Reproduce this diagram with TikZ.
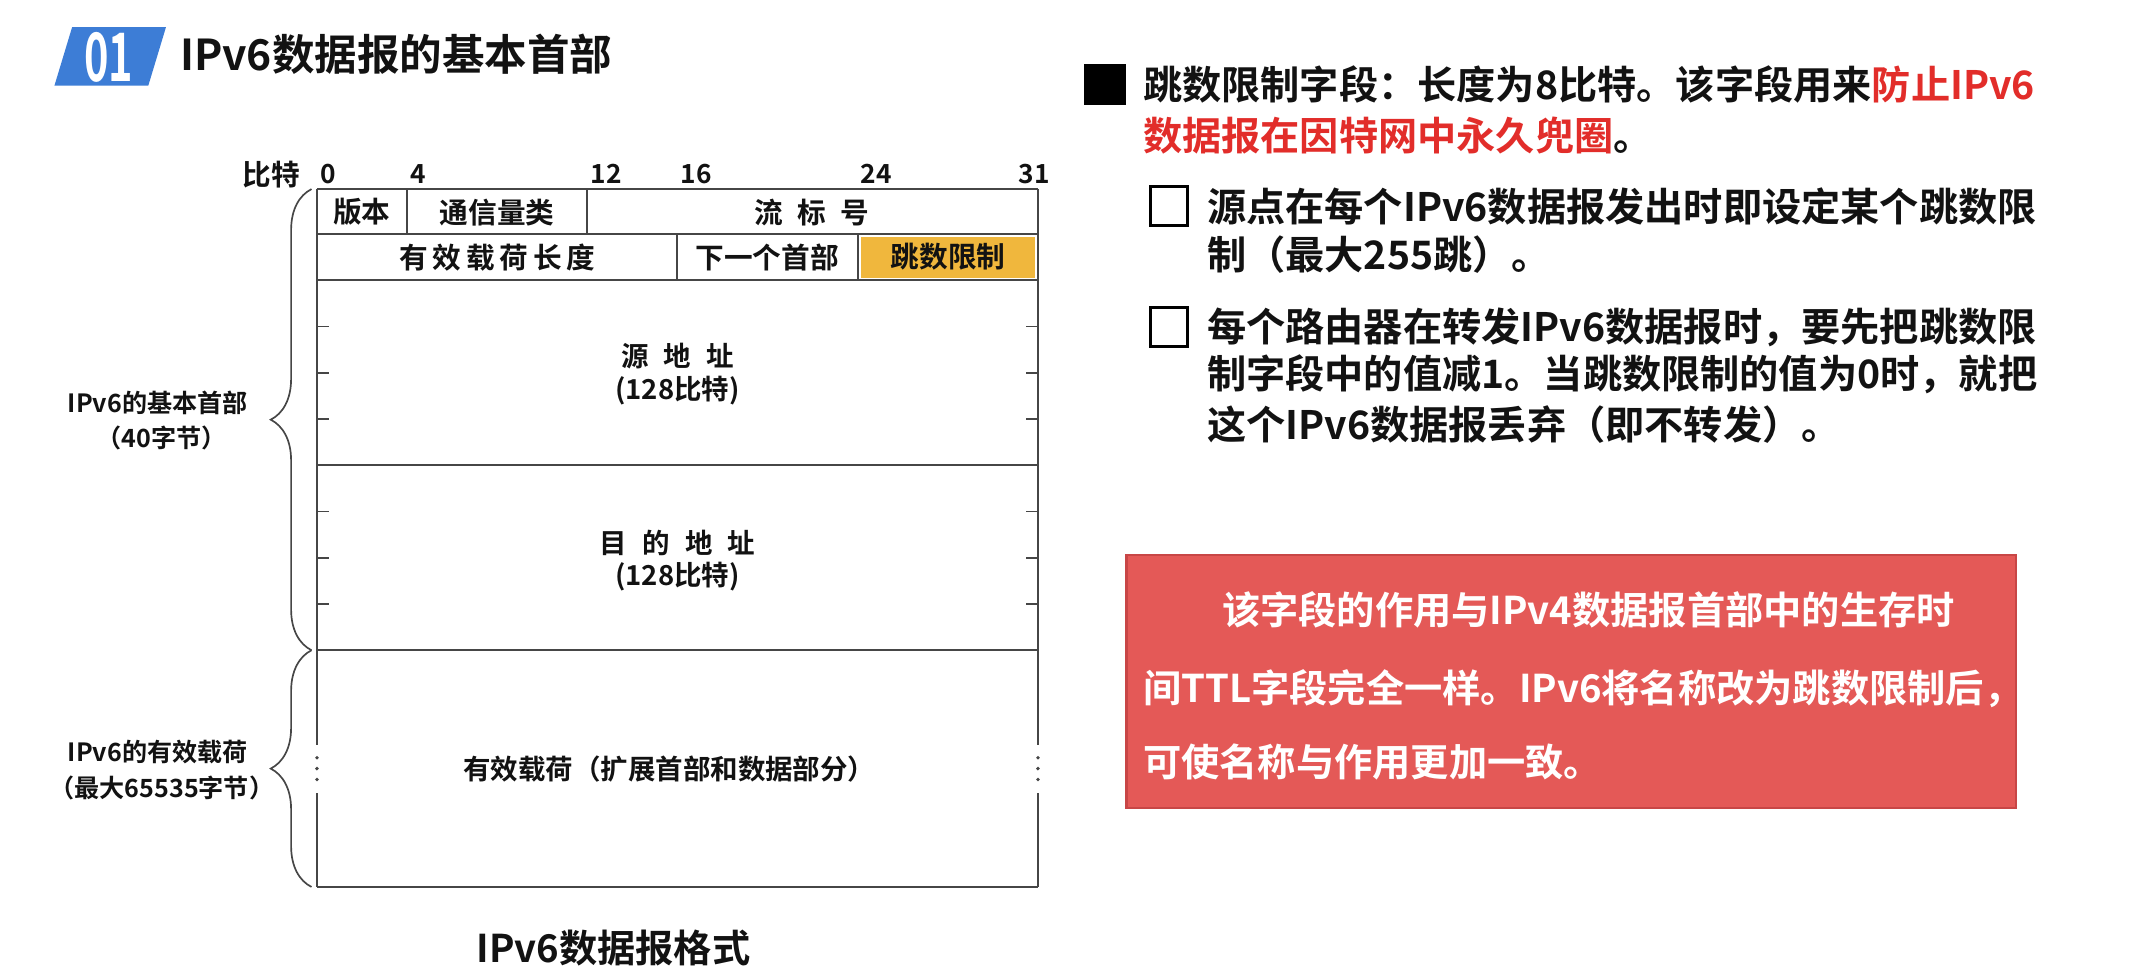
\documentclass[tikz,border=0pt]{standalone}
\usepackage{graphicx}
\usepackage{fontspec}
\setmainfont{Noto Sans CJK SC}[UprightFont=* Bold]
\usetikzlibrary{decorations.pathreplacing}

\definecolor{hdrTitleBlue}{RGB}{61,125,214}
\definecolor{hdrHopYellow}{RGB}{240,183,61}
\definecolor{hdrLine}{RGB}{70,70,70}
\definecolor{hdrText}{RGB}{18,18,18}
\definecolor{hdrRedText}{RGB}{226,45,42}
\definecolor{hdrNoteFill}{RGB}{228,89,87}
\definecolor{hdrNoteBorder}{RGB}{200,70,70}

\begin{document}
\begin{tikzpicture}[x=.02cm,y=-.02cm,
      heading/.style={font=\fontsize{17.8}{19}\selectfont,
        text=hdrText, anchor=west, inner sep=0pt},
      badge/.style={font=\fontsize{28}{29}\selectfont, text=white,
        inner sep=0pt},
      bitnum/.style={font=\fontsize{11}{12}\selectfont,
        text=hdrText, anchor=west, inner sep=0pt},
      field/.style={font=\fontsize{12}{13}\selectfont,
        text=hdrText, inner sep=0pt},
      addr/.style={font=\fontsize{11.5}{13}\selectfont,
        text=hdrText, inner sep=0pt},
      sidelabel/.style={font=\fontsize{10.5}{12}\selectfont,
        text=hdrText, inner sep=0pt},
      figcaption/.style={font=\fontsize{16}{17}\selectfont,
        text=hdrText, inner sep=0pt},
      bullettext/.style={font=\fontsize{16.4}{18}\selectfont,
        text=hdrText, anchor=west, inner sep=0pt},
      notetext/.style={font=\fontsize{16}{18}\selectfont,
        text=white, anchor=west, inner sep=0pt},
      cellrule/.style={draw=hdrLine, line width=.8pt},
      notch/.style={draw=hdrLine, line width=.7pt},
      curly/.style={draw=hdrLine, line width=.7pt, decorate,
        decoration={brace, amplitude=.6cm}}]
      \useasboundingbox (0,0) rectangle (1568,718);
      \fill[white] (0,0) rectangle (1568,718);

      % Section badge and heading.
      \fill[hdrTitleBlue] (53,20) -- (122,20) -- (109,63) -- (40,63) -- cycle;
      \node[badge] (badgeNum) at (80,42) {\scalebox{.62}[1]{01}};
      \node[heading] (pageHead) at (132,40) {IPv6数据报的基本首部};

      % Bit scale above the header.
      \node[field, anchor=east] (bitsLabel) at (221,128) {比特};
      \foreach \b in {0,4,12,16,24,31}
        \node[bitnum] (bit\b) at ({235+16.56*\b},128) {\b};

      % Fixed header rows.
      \fill[hdrHopYellow] (633,174) rectangle (761,204.5);
      \draw[cellrule] (233,139) -- (763,139);
      \foreach \y in {172,206,342,478,652}
        \draw[cellrule] (233,\y) -- (763,\y);
      \draw[cellrule] (299.2,139) -- (299.2,172);
      \draw[cellrule] (431.8,139) -- (431.8,172);
      \draw[cellrule] (498,172) -- (498,206);
      \draw[cellrule] (630.5,172) -- (630.5,206);

      % Side edges, broken where the payload runs on.
      \foreach \x in {233,763}{
        \draw[cellrule] (\x,139) -- (\x,548);
        \draw[cellrule] (\x,583) -- (\x,652);
        \foreach \y in {557,565,573}
          \fill[hdrLine] (\x,\y) circle (.8pt);}

      % Notches for the 32-bit words of each address.
      \foreach \y in {240,274,308,376,410,444}{
        \draw[notch] (233,\y) -- ++(9,0);
        \draw[notch] (763,\y) -- ++(-9,0);}

      \node[field] (version) at (266,156) {版本};
      \node[field] (trafficClass) at (365.5,156) {通信量类};
      \node[field] (flowLabel) at (597,156) {流\hspace{.5em}标\hspace{.5em}号};
      \node[field] (payloadLength) at (365.5,189) {有\,效\,载\,荷\,长\,度};
      \node[field] (nextHeader) at (564,189) {下一个首部};
      \node[field] (hopLimit) at (697,189) {跳数限制};

      \node[addr] (srcAddr) at (498,262) {源\hspace{.55em}地\hspace{.55em}址};
      \node[addr] (srcBits) at (498,287) {(128比特)};
      \node[addr] (dstAddr) at (498,399) {目\hspace{.55em}的\hspace{.55em}地\hspace{.55em}址};
      \node[addr] (dstBits) at (498,424) {(128比特)};
      \node[addr] (payload) at (492,565) {有效载荷（扩展首部和数据部分）};

      % Braces and what they span.
      \draw[curly] (229,478) -- (229,139);
      \draw[curly] (229,652) -- (229,478);
      \node[sidelabel] (headerSide) at (116,296) {IPv6的基本首部};
      \node[sidelabel] (headerSize) at (119,322) {（40字节）};
      \node[sidelabel] (payloadSide) at (116,553) {IPv6的有效载荷};
      \node[sidelabel] (payloadSize) at (119,579) {（最大65535字节）};

      \node[figcaption] (figName) at (451,697) {IPv6数据报格式};

      % Hop limit notes.
      \fill[black] (797,47) rectangle (828,77);
      \node[bullettext] (hopLineA) at (840,62)
        {跳数限制字段：长度为8比特。该字段用来\textcolor{hdrRedText}{防止IPv6}};
      \node[bullettext] (hopLineB) at (840,100)
        {\textcolor{hdrRedText}{数据报在因特网中永久兜圈}。};

      \foreach \y in {137,226}
        \draw[black, line width=1.2pt] (846,\y) rectangle ++(27,29);
      \node[bullettext] (sourceLineA) at (887,152)
        {源点在每个IPv6数据报发出时即设定某个跳数限};
      \node[bullettext] (sourceLineB) at (887,187) {制（最大255跳）。};
      \node[bullettext] (routerLineA) at (887,241)
        {每个路由器在转发IPv6数据报时，要先把跳数限};
      \node[bullettext] (routerLineB) at (887,275)
        {制字段中的值减1。当跳数限制的值为0时，就把};
      \node[bullettext] (routerLineC) at (887,312)
        {这个IPv6数据报丢弃（即不转发）。};

      % Red note on TTL.
      \path[fill=hdrNoteFill, draw=hdrNoteBorder, line width=1pt]
        (828,408) rectangle (1482,594);
      \node[notetext] (ttlLineA) at (898,448)
        {该字段的作用与IPv4数据报首部中的生存时};
      \node[notetext] (ttlLineB) at (840,506)
        {间TTL字段完全一样。IPv6将名称改为跳数限制后，};
      \node[notetext] (ttlLineC) at (840,560) {可使名称与作用更加一致。};
    \end{tikzpicture}
\end{document}
